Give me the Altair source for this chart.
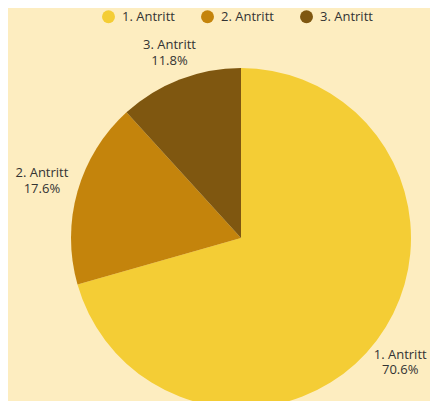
import altair as alt
import pandas as pd

categories = ["1. Antritt", "2. Antritt", "3. Antritt"]
counts = [12, 3, 2]
pct_labels = ["70.6%", "17.6%", "11.8%"]
colors = ["#F4CD35", "#C4840C", "#7F5710"]

df = pd.DataFrame({
    "cat": categories,
    "count": counts,
    "pct": pct_labels,
    "order": [0, 1, 2],
})

CX, CY, R = 233, 230, 170

base = alt.Chart(df).encode(
    theta=alt.Theta("count:Q", stack=True),
    order=alt.Order("order:Q"),
)

arcs = base.mark_arc(outerRadius=R, x=CX, y=CY).encode(
    color=alt.Color(
        "cat:N",
        scale=alt.Scale(domain=categories, range=colors),
        legend=alt.Legend(
            title=None,
            orient="none",
            direction="horizontal",
            legendX=94,
            legendY=2,
            symbolType="circle",
            symbolSize=169,
            symbolStrokeWidth=0,
            labelFont="Open Sans",
            labelFontSize=13,
            labelColor="#333333",
            labelOffset=7,
            columnPadding=26,
            padding=0,
        ),
    )
)

text_base = base.transform_calculate(
    label="datum.cat + '\\n' + datum.pct"
)

text_style = dict(
    x=CX, y=CY, font="Open Sans", fontSize=13, color="#333333",
    lineBreak="\n", lineHeight=15.5, align="center", baseline="middle", dy=-8,
)


def label_layer(idx, radius, dx=0):
    return text_base.mark_text(radius=radius, dx=dx, **text_style).encode(
        text=alt.condition(f"datum.order == {idx}", "label:N", alt.value("")),
    )


chart = alt.layer(
    arcs,
    label_layer(0, 207, dx=-6),
    label_layer(1, 207),
    label_layer(2, 198),
).properties(
    width=422, height=393, padding=0, autosize="none", background="#FDEDC0"
).configure_view(stroke=None)

chart.save("out.html", embed_options={"renderer": "svg", "actions": False})
